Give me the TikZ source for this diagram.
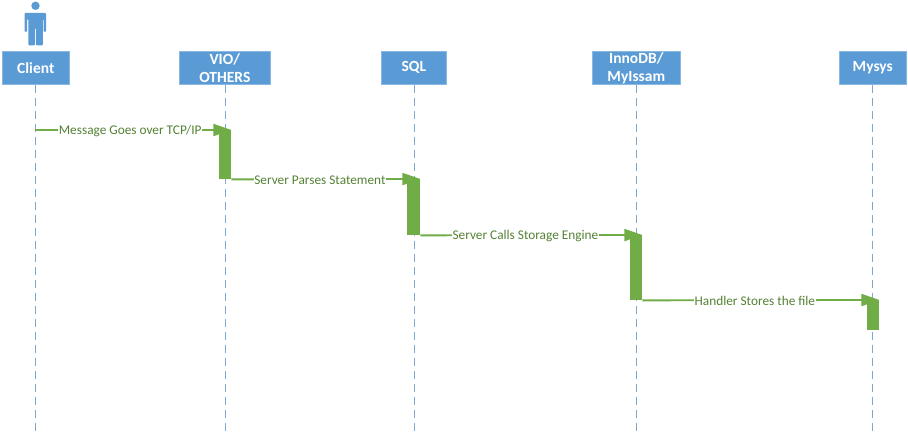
\documentclass[tikz,border=0pt]{standalone}
\usepackage{fontspec}
\setmainfont{Carlito}
\usetikzlibrary{arrows.meta}
\definecolor{hdr}{HTML}{5B9BD5}
\definecolor{lifeln}{HTML}{7FA8CE}
\definecolor{act}{HTML}{70AD47}
\definecolor{lbl}{HTML}{548235}
\tikzset{
  x=1pt,y=-1pt,
  hdrbox/.style={fill=hdr,draw=hdr!70!white,line width=0.6pt,text=white,font=\fontsize{15.5}{18}\selectfont\bfseries,align=center,inner sep=0pt,minimum height=33pt,anchor=north west},
  lifeline/.style={draw=lifeln,line width=1pt,dash pattern=on 8pt off 5pt},
  actbar/.style={fill=act,draw=none,inner sep=0pt,anchor=north west,minimum width=12pt},
  msg/.style={draw=act,line width=1.8pt,-{Triangle[length=18pt,width=12pt,fill=act]}},
  msglbl/.style={fill=white,text=lbl,font=\fontsize{13.3}{15}\selectfont,inner sep=0.5pt,pos=0.5,xshift=-6pt,yshift=-0.8pt}
}
\begin{document}
\begin{tikzpicture}
\useasboundingbox (0,0) rectangle (908,435);
\fill[white] (0,0) rectangle (908,435);
% lifeline ends
\coordinate (e1) at (35,435);
\coordinate (e2) at (225,435);
\coordinate (e3) at (414,435);
\coordinate (e4) at (636,435);
\coordinate (e5) at (872,435);
% headers
\node[hdrbox,minimum width=67pt] (client) at (2,51) {Client};
\node[hdrbox,minimum width=91pt] (vio) at (179,51) {VIO/\\OTHERS};
\node[hdrbox,minimum width=65pt] (sql) at (381,51) {SQL};
\node[hdrbox,minimum width=88pt] (inno) at (592,51) {InnoDB/\\MyIssam};
\node[hdrbox,minimum width=67pt] (mysys) at (839,51) {Mysys};
% lifelines
\draw[lifeline] (client.south -| e1) -- (e1);
\draw[lifeline] (vio.south -| e2) -- (e2);
\draw[lifeline] (sql.south -| e3) -- (e3);
\draw[lifeline] (inno.south -| e4) -- (e4);
\draw[lifeline] (mysys.south -| e5) -- (e5);
% person
\fill[hdr] (35.5,5.8) circle (4.2);
\fill[hdr,rounded corners=1pt] (24.5,13) -- (46,13) -- (46,32) -- (43.7,32) -- (43.7,19) -- (42.8,19) -- (42.8,45.5) -- (36,45.5) -- (36,28) -- (35,28) -- (35,45.5) -- (28.3,45.5) -- (28.3,19) -- (27,19) -- (27,32) -- (24.5,32) -- cycle;
% activation bars
\node[actbar,minimum height=49pt] (a2) at (219,130) {};
\node[actbar,minimum height=56pt,minimum width=13pt] (a3) at (407,179) {};
\node[actbar,minimum height=65pt] (a4) at (630,235) {};
\node[actbar,minimum height=30pt] (a5) at (867,300) {};
\coordinate (s1) at (35,130);
% messages
\draw[msg] (s1) -- node[msglbl,xshift=3pt]{Message Goes over TCP/IP} (a2.north east);
\draw[msg] (a2.south east) -- node[msglbl]{Server Parses Statement} (a3.north east);
\draw[msg] (a3.south east) -- node[msglbl]{Server Calls Storage Engine} (a4.north east);
\draw[msg] (a4.south east) -- node[msglbl]{Handler Stores the file} (a5.north east);
\end{tikzpicture}
\end{document}
